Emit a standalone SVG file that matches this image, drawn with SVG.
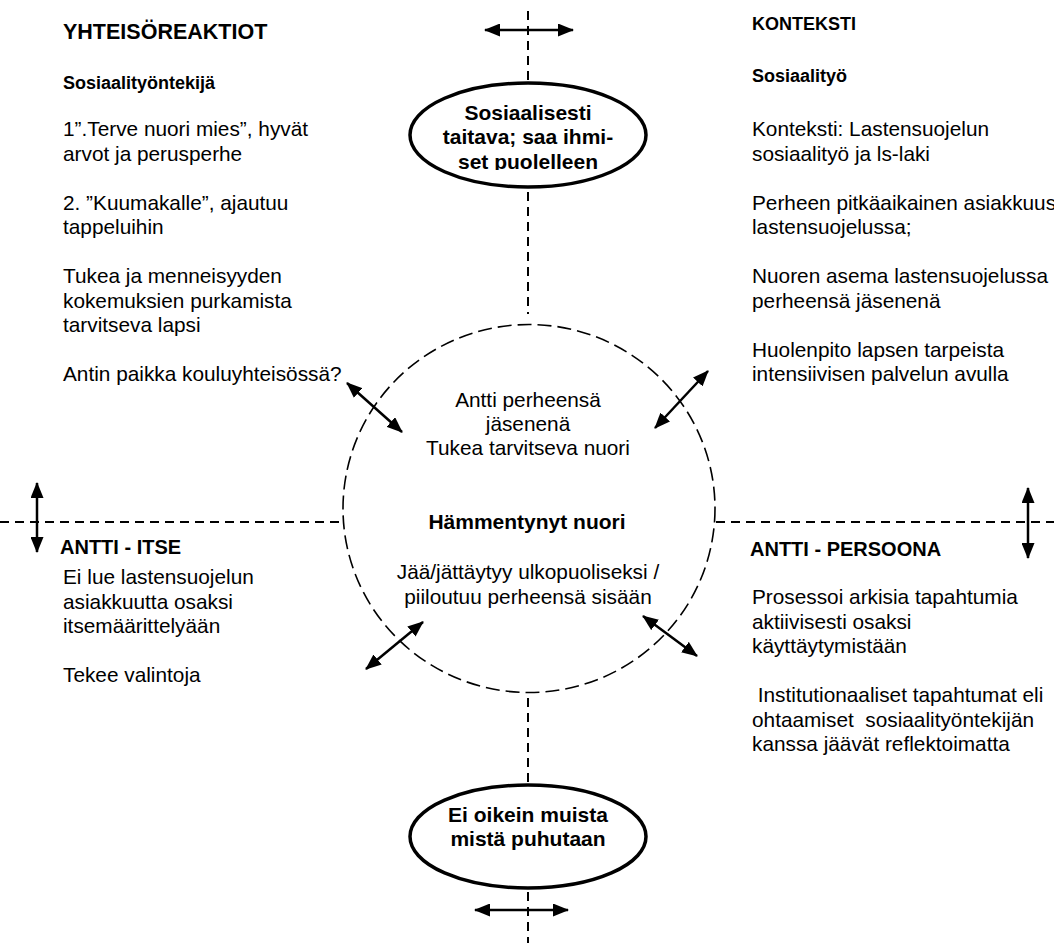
<svg xmlns="http://www.w3.org/2000/svg" width="1054" height="943" viewBox="0 0 1054 943">
<style>
text{font-family:"Liberation Sans",Arial,sans-serif;fill:#000}
.t{font-size:20.8px}
.b{font-size:20px;font-weight:bold}
.bc{font-size:21px;font-weight:bold;text-anchor:middle}
.c{font-size:20.8px;text-anchor:middle}
.axis{stroke:#000;stroke-width:2;fill:none;stroke-dasharray:9 6}
.circ{stroke:#000;stroke-width:1.6;fill:none;stroke-dasharray:14 6}
.arr{stroke:#000;stroke-width:2.5;fill:none;marker-start:url(#ah);marker-end:url(#ah)}
.oval{stroke:#000;stroke-width:3.5;fill:#fff}
</style>
<defs>
<marker id="ah" viewBox="0 0 16 13" markerWidth="16" markerHeight="13" refX="15" refY="6.5" markerUnits="userSpaceOnUse" orient="auto-start-reverse">
<path d="M0,0 L16,6.5 L0,13 z" fill="#000"/>
</marker>
<clipPath id="clipTop"><rect x="400" y="80" width="260" height="90"/></clipPath>
</defs>
<rect width="1054" height="943" fill="#fff"/>

<g id="connectors">
<line class="axis" x1="528" y1="11" x2="528" y2="83"/>
<line class="axis" x1="528" y1="192" x2="528" y2="314"/>
<line class="axis" x1="528" y1="698" x2="528" y2="785"/>
<line class="axis" x1="528" y1="892" x2="528" y2="943"/>
<line class="axis" x1="0" y1="522" x2="342" y2="522"/>
<line class="axis" x1="716" y1="522" x2="1054" y2="522"/>
<line class="arr" x1="485" y1="30" x2="573" y2="30"/>
<line class="arr" stroke-width="2" x1="475" y1="910" x2="568" y2="910"/>
<line class="arr" x1="37" y1="483" x2="37" y2="552"/>
<line class="arr" x1="1028" y1="488" x2="1028" y2="558"/>
<line class="arr" x1="347" y1="383" x2="402" y2="432"/>
<line class="arr" x1="708" y1="371" x2="655" y2="428"/>
<line class="arr" x1="423" y1="622" x2="366" y2="669"/>
<line class="arr" x1="643" y1="616" x2="697" y2="656"/>
</g>

<g id="center-circle">
<ellipse class="circ" cx="529" cy="508.5" rx="186" ry="184"/>
<text class="c" x="528" y="407">Antti perheensä</text>
<text class="c" x="528" y="431">jäsenenä</text>
<text class="c" x="528" y="455">Tukea tarvitseva nuori</text>
<text class="bc" x="527" y="529">Hämmentynyt nuori</text>
<text class="c" x="528" y="579">Jää/jättäytyy ulkopuoliseksi /</text>
<text class="c" x="528" y="604">piiloutuu perheensä sisään</text>
</g>

<g id="top-oval">
<ellipse class="oval" cx="528" cy="135" rx="118" ry="52"/>
<g clip-path="url(#clipTop)">
<text class="bc" x="528" y="120">Sosiaalisesti</text>
<text class="bc" x="528" y="144">taitava; saa ihmi-</text>
<text class="bc" x="528" y="169">set puolelleen</text>
</g>
</g>

<g id="bottom-oval">
<ellipse class="oval" cx="528" cy="836.5" rx="118" ry="51.5"/>
<text class="bc" x="528" y="822">Ei oikein muista</text>
<text class="bc" x="528" y="846">mistä puhutaan</text>
</g>

<g id="yhteisoreaktiot">
<text class="b" x="63" y="39" style="font-size:21.5px">YHTEISÖREAKTIOT</text>
<text class="b" x="63" y="89" style="font-size:18px">Sosiaalityöntekijä</text>
<text class="t" x="63" y="136">1”.Terve nuori mies”, hyvät</text>
<text class="t" x="63" y="160.5">arvot ja perusperhe</text>
<text class="t" x="63" y="209.5">2. ”Kuumakalle”, ajautuu</text>
<text class="t" x="63" y="234">tappeluihin</text>
<text class="t" x="63" y="283">Tukea ja menneisyyden</text>
<text class="t" x="63" y="307.5">kokemuksien purkamista</text>
<text class="t" x="63" y="332">tarvitseva lapsi</text>
<text class="t" x="63" y="381">Antin paikka kouluyhteisössä?</text>
</g>

<g id="konteksti">
<text class="b" x="752" y="30" style="font-size:18px">KONTEKSTI</text>
<text class="b" x="752" y="82" style="font-size:18px">Sosiaalityö</text>
<text class="t" x="752" y="136">Konteksti: Lastensuojelun</text>
<text class="t" x="752" y="160.5">sosiaalityö ja ls-laki</text>
<text class="t" x="752" y="209.5">Perheen pitkäaikainen asiakkuus</text>
<text class="t" x="752" y="234">lastensuojelussa;</text>
<text class="t" x="752" y="283">Nuoren asema lastensuojelussa</text>
<text class="t" x="752" y="307.5">perheensä jäsenenä</text>
<text class="t" x="752" y="356.5">Huolenpito lapsen tarpeista</text>
<text class="t" x="752" y="381">intensiivisen palvelun avulla</text>
</g>

<g id="antti-itse">
<text class="b" x="60" y="554">ANTTI - ITSE</text>
<text class="t" x="63" y="584">Ei lue lastensuojelun</text>
<text class="t" x="63" y="608.5">asiakkuutta osaksi</text>
<text class="t" x="63" y="633">itsemäärittelyään</text>
<text class="t" x="63" y="682">Tekee valintoja</text>
</g>

<g id="antti-persoona">
<text class="b" x="750" y="556">ANTTI - PERSOONA</text>
<text class="t" x="752" y="604">Prosessoi arkisia tapahtumia</text>
<text class="t" x="752" y="628.5">aktiivisesti osaksi</text>
<text class="t" x="752" y="653">käyttäytymistään</text>
<text class="t" x="752" y="702" xml:space="preserve"> Institutionaaliset tapahtumat eli</text>
<text class="t" x="752" y="726.5" xml:space="preserve">ohtaamiset  sosiaalityöntekijän</text>
<text class="t" x="752" y="751">kanssa jäävät reflektoimatta</text>
</g>
</svg>
